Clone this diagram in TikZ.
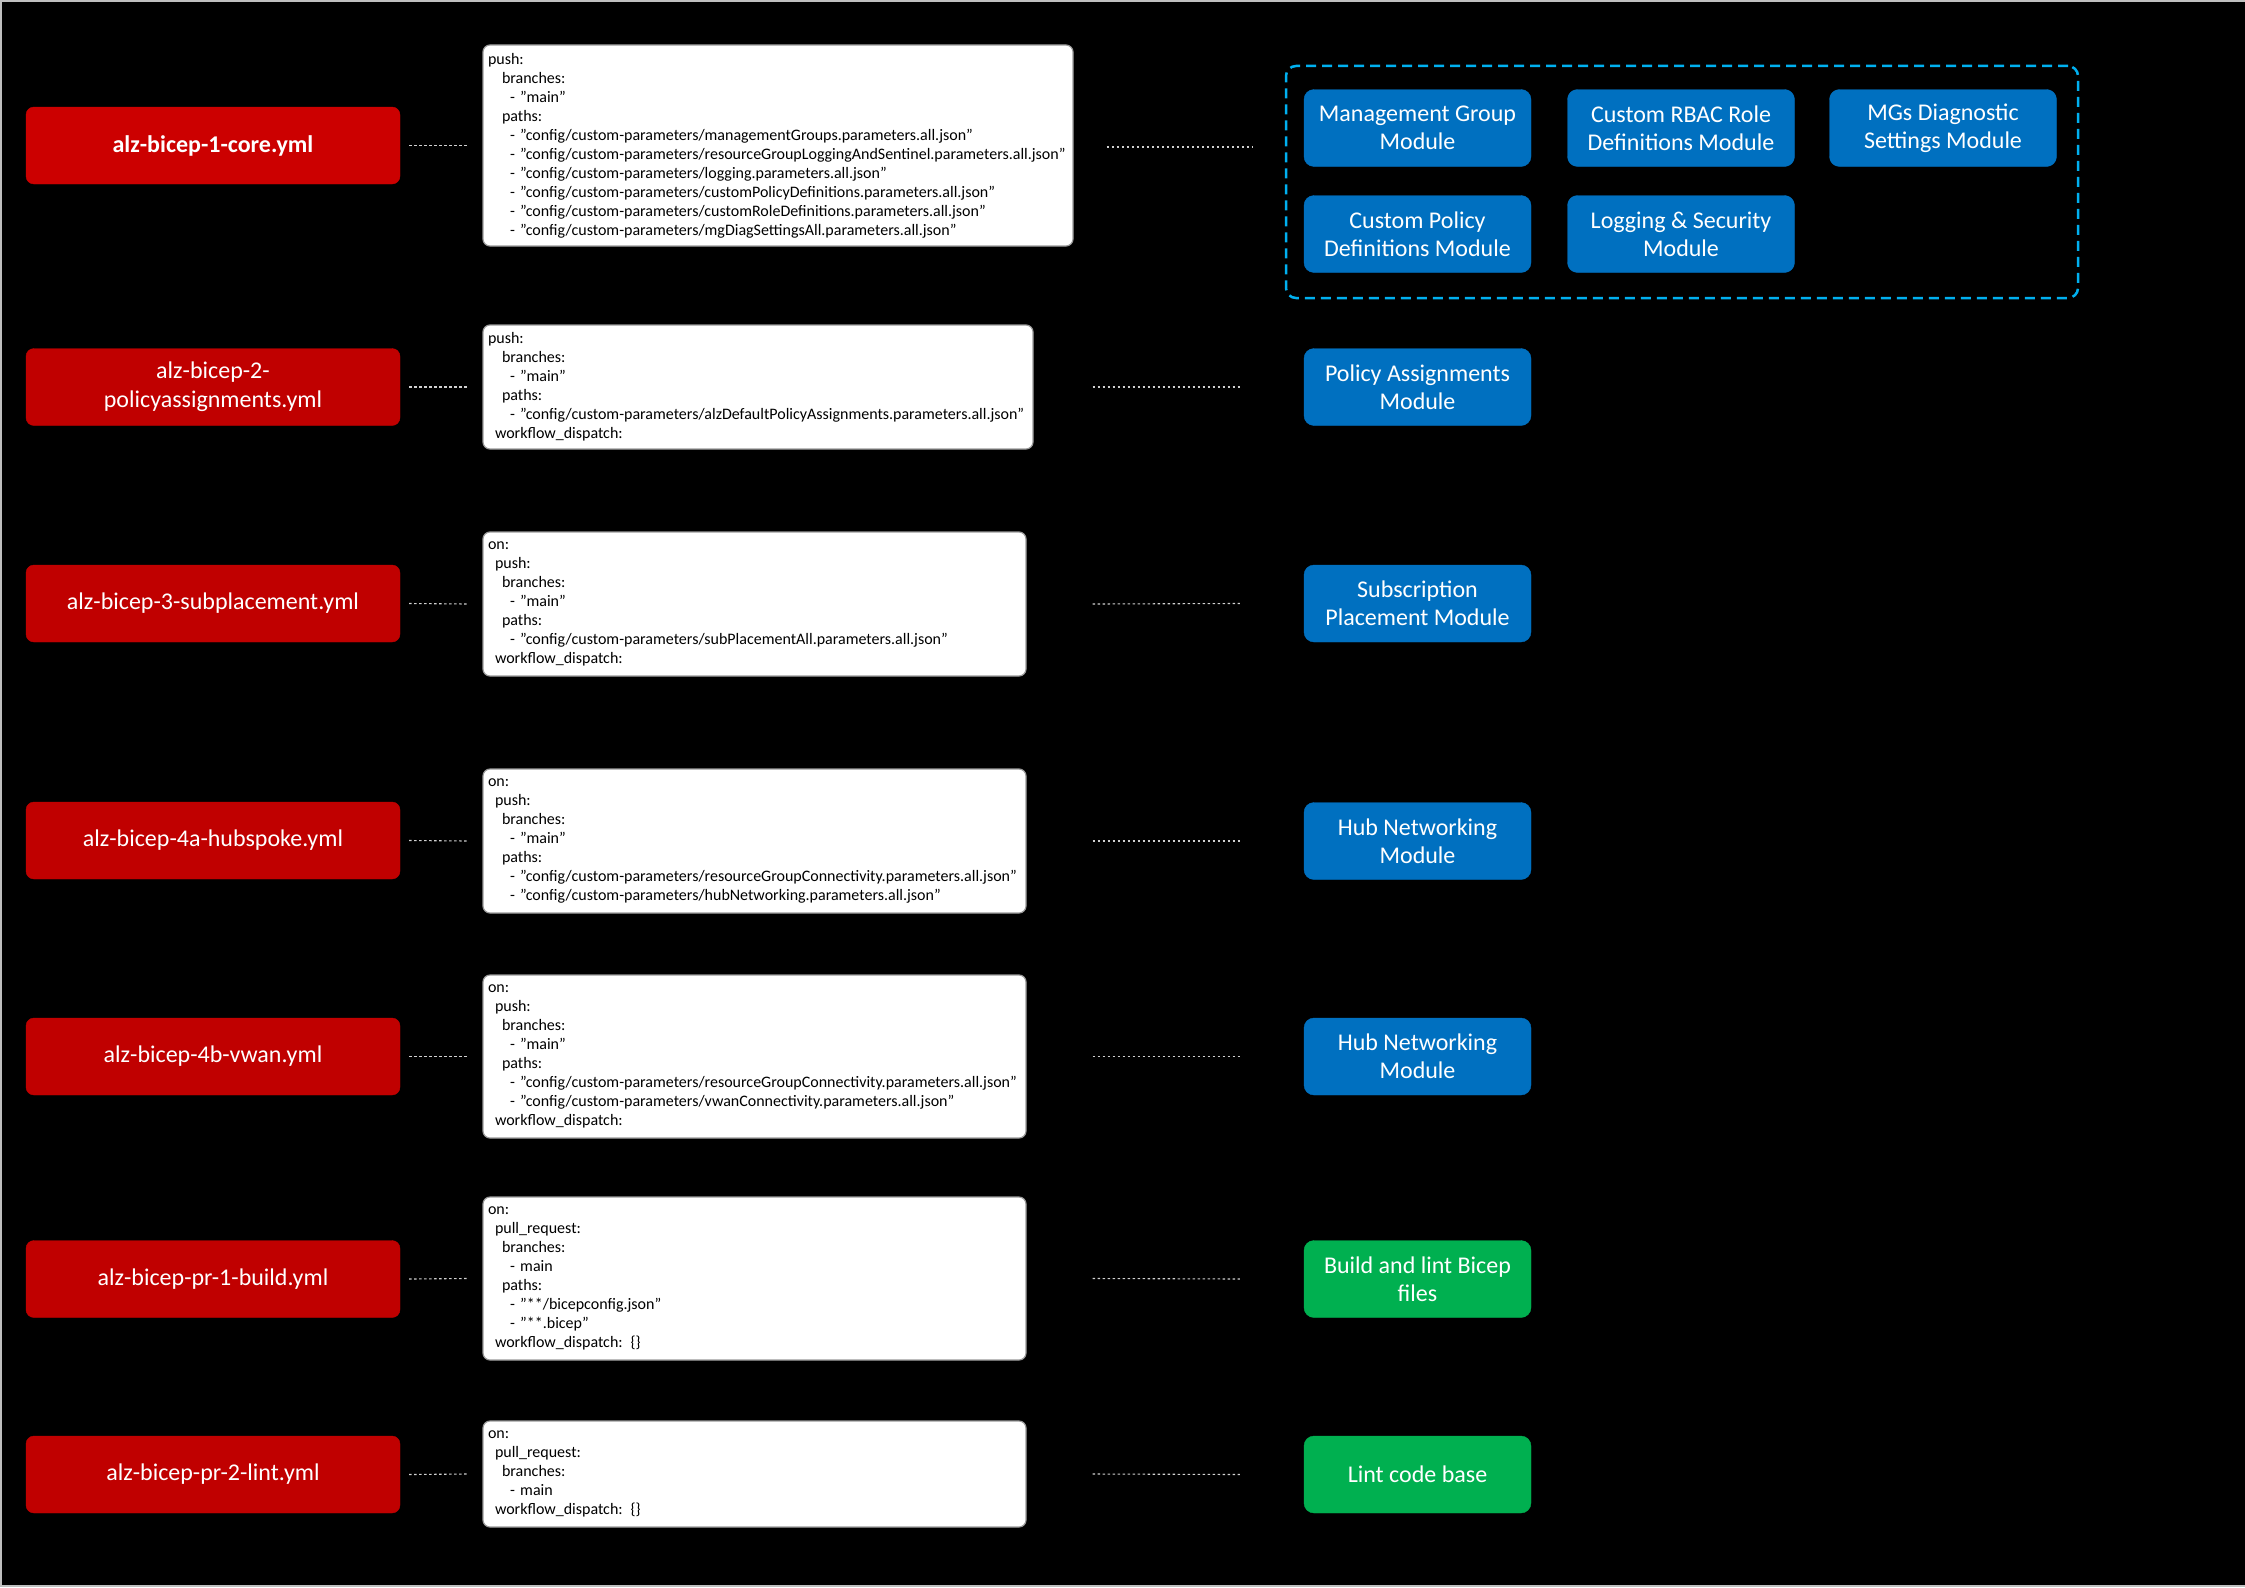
\documentclass[tikz,border=0pt]{standalone}
\usepackage{fontspec}
\setmainfont{Carlito}
\definecolor{wfred}{HTML}{C00000}
\definecolor{wfredA}{HTML}{CC0000}
\definecolor{modblue}{HTML}{0070C0}
\definecolor{modgreen}{HTML}{00B050}
\definecolor{grpblue}{HTML}{00B0F0}
\definecolor{dotgray}{HTML}{D0D0D0}
\definecolor{framegray}{HTML}{BFBFBF}
\definecolor{codeedge}{HTML}{9A9A9A}
\newcommand{\ia}{\hspace*{7pt}}
\newcommand{\ib}{\hspace*{14pt}}
\newcommand{\ic}{\hspace*{22pt}}
\begin{document}
\begin{tikzpicture}[x=1pt,y=-1pt,
  redbox/.style={rectangle, rounded corners=8pt, fill=wfred, draw=wfred, minimum width=374pt, minimum height=77pt, text=white, font=\fontsize{24}{29}\selectfont, align=center, inner sep=0pt},
  modbox/.style={rectangle, rounded corners=10pt, fill=modblue, draw=modblue, minimum width=227pt, minimum height=77pt, text=white, font=\fontsize{24}{28}\selectfont, align=center, inner sep=0pt},
  buildbox/.style={modbox, fill=modgreen, draw=modgreen},
  codebox/.style={rectangle, rounded corners=7pt, fill=white, draw=codeedge, line width=1.2pt, align=left, inner xsep=5pt, inner ysep=0pt, font=\fontsize{16}{19}\selectfont, text=black},
  dotline/.style={draw=dotgray, line width=1.1pt, dash pattern=on 2.5pt off 2.5pt},
  grpbox/.style={rectangle, rounded corners=10pt, draw=grpblue, line width=2.5pt, dash pattern=on 10pt off 6pt, minimum width=792pt, minimum height=232pt, inner sep=0pt}
]
\fill[black] (0,0) rectangle (2245,1587);
\useasboundingbox (0,0) rectangle (2245,1587);
\draw[framegray, line width=2pt] (2245,1) -- (1,1) -- (1,1586) -- (2245,1586);

% row 1
\node[redbox, fill=wfredA, draw=wfredA, font=\fontsize{24}{29}\selectfont\bfseries] (r1) at (213,145.5) {alz-bicep-1-core.yml};
\node[codebox, minimum width=590pt, minimum height=201pt, text width=580pt] (c1) at (778,145.5) {push:\\
\ib branches:\\
\ic - "main"\\
\ib paths:\\
\ic - "config/custom-parameters/managementGroups.parameters.all.json"\\
\ic - "config/custom-parameters/resourceGroupLoggingAndSentinel.parameters.all.json"\\
\ic - "config/custom-parameters/logging.parameters.all.json"\\
\ic - "config/custom-parameters/customPolicyDefinitions.parameters.all.json"\\
\ic - "config/custom-parameters/customRoleDefinitions.parameters.all.json"\\
\ic - "config/custom-parameters/mgDiagSettingsAll.parameters.all.json"};
\node[grpbox] (grp) at (1682,182) {};
\node[modbox] (m1a) at (1417.5,128) {Management Group\\Module};
\node[modbox] (m1b) at (1681,128) {Custom RBAC Role\\Definitions Module};
\node[modbox] (m1c) at (1943,128) {MGs Diagnostic\\Settings Module};
\node[modbox] (m1d) at (1417.5,234) {Custom Policy\\Definitions Module};
\node[modbox] (m1e) at (1681,234) {Logging \& Security\\Module};
\coordinate (g1) at (c1.east -| grp.west);
\draw[dotline] ([xshift=9pt]r1.east) -- ([xshift=-15pt]c1.west);
\draw[dotline] ([xshift=33pt,yshift=-1.5pt]c1.east) -- ([xshift=-33pt,yshift=-1.5pt]g1);

% row 2
\node[redbox] (r2) at (213,387) {alz-bicep-2-\\policyassignments.yml};
\node[codebox, minimum width=550pt, minimum height=124pt, text width=540pt] (c2) at (758,387) {push:\\
\ib branches:\\
\ic - "main"\\
\ib paths:\\
\ic - "config/custom-parameters/alzDefaultPolicyAssignments.parameters.all.json"\\
\ia workflow\_dispatch:};
\node[modbox] (m2) at (1417.5,387) {Policy Assignments\\Module};
\draw[dotline] ([xshift=9pt]r2.east) -- ([xshift=-15pt]c2.west);
\draw[dotline] ([xshift=59pt]c2.east) -- ([xshift=-64pt]m2.west);

% row 3
\node[redbox] (r3) at (213,603.5) {alz-bicep-3-subplacement.yml};
\node[codebox, minimum width=543pt, minimum height=144pt, text width=533pt] (c3) at (754.5,604) {on:\\
\ia push:\\
\ib branches:\\
\ic - "main"\\
\ib paths:\\
\ic - "config/custom-parameters/subPlacementAll.parameters.all.json"\\
\ia workflow\_dispatch:};
\node[modbox] (m3) at (1417.5,603.5) {Subscription\\Placement Module};
\draw[dotline] ([xshift=9pt]r3.east) -- ([xshift=-15pt]c3.west);
\draw[dotline] ([xshift=66pt]c3.east) -- ([xshift=-64pt]m3.west);

% row 4
\node[redbox] (r4) at (213,840.5) {alz-bicep-4a-hubspoke.yml};
\node[codebox, minimum width=543pt, minimum height=144pt, text width=533pt] (c4) at (754.5,841) {on:\\
\ia push:\\
\ib branches:\\
\ic - "main"\\
\ib paths:\\
\ic - "config/custom-parameters/resourceGroupConnectivity.parameters.all.json"\\
\ic - "config/custom-parameters/hubNetworking.parameters.all.json"};
\node[modbox] (m4) at (1417.5,841) {Hub Networking\\Module};
\draw[dotline] ([xshift=9pt]r4.east) -- ([xshift=-15pt]c4.west);
\draw[dotline] ([xshift=66pt]c4.east) -- ([xshift=-64pt]m4.west);

% row 5
\node[redbox] (r5) at (213,1056.5) {alz-bicep-4b-vwan.yml};
\node[codebox, minimum width=543pt, minimum height=163pt, text width=533pt] (c5) at (754.5,1056.5) {on:\\
\ia push:\\
\ib branches:\\
\ic - "main"\\
\ib paths:\\
\ic - "config/custom-parameters/resourceGroupConnectivity.parameters.all.json"\\
\ic - "config/custom-parameters/vwanConnectivity.parameters.all.json"\\
\ia workflow\_dispatch:};
\node[modbox] (m5) at (1417.5,1056.5) {Hub Networking\\Module};
\draw[dotline] ([xshift=9pt]r5.east) -- ([xshift=-15pt]c5.west);
\draw[dotline] ([xshift=66pt]c5.east) -- ([xshift=-64pt]m5.west);

% row 6
\node[redbox] (r6) at (213,1279) {alz-bicep-pr-1-build.yml};
\node[codebox, minimum width=543pt, minimum height=163pt, text width=533pt] (c6) at (754.5,1278.5) {on:\\
\ia pull\_request:\\
\ib branches:\\
\ic - main\\
\ib paths:\\
\ic - "**/bicepconfig.json"\\
\ic - "**.bicep"\\
\ia workflow\_dispatch: \{\}};
\node[buildbox] (m6) at (1417.5,1279) {Build and lint Bicep\\files};
\draw[dotline] ([xshift=9pt]r6.east) -- ([xshift=-15pt]c6.west);
\draw[dotline] ([xshift=66pt]c6.east) -- ([xshift=-64pt]m6.west);

% row 7
\node[redbox] (r7) at (213,1474.5) {alz-bicep-pr-2-lint.yml};
\node[codebox, minimum width=543pt, minimum height=106pt, text width=533pt] (c7) at (754.5,1474) {on:\\
\ia pull\_request:\\
\ib branches:\\
\ic - main\\
\ia workflow\_dispatch: \{\}};
\node[buildbox] (m7) at (1417.5,1474.5) {Lint code base};
\draw[dotline] ([xshift=9pt]r7.east) -- ([xshift=-15pt]c7.west);
\draw[dotline] ([xshift=66pt]c7.east) -- ([xshift=-64pt]m7.west);
\end{tikzpicture}
\end{document}
